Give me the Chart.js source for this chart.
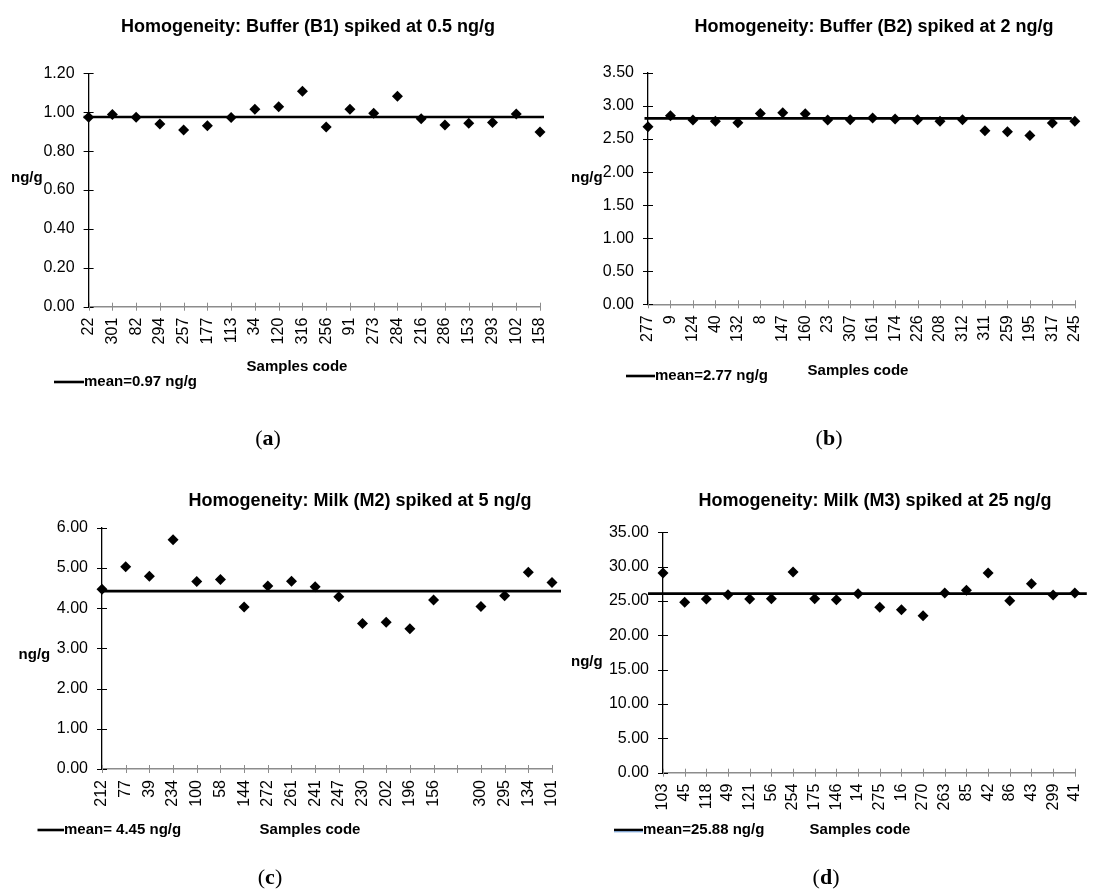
<!DOCTYPE html>
<html><head><meta charset="utf-8">
<script src="https://cdn.jsdelivr.net/npm/chart.js@4.4.1/dist/chart.umd.min.js"></script>
<style>
html,body{margin:0;padding:0;background:#fff;}
#wrap{position:relative;width:1105px;height:889px;overflow:hidden;background:#fff;}
canvas{position:absolute;left:0;top:0;}
.lbl{position:absolute;font-family:"Liberation Serif","DejaVu Serif",serif;font-size:22px;color:#000;transform:translate(-50%,-50%);white-space:nowrap;}
</style></head><body>
<div id="wrap">
<canvas id="c0" width="1105" height="889"></canvas>
<canvas id="c1" width="1105" height="889"></canvas>
<canvas id="c2" width="1105" height="889"></canvas>
<canvas id="c3" width="1105" height="889"></canvas>
<div class="lbl" style="left:268px;top:438px">(<b>a</b>)</div>
<div class="lbl" style="left:829px;top:438px">(<b>b</b>)</div>
<div class="lbl" style="left:270px;top:877px">(<b>c</b>)</div>
<div class="lbl" style="left:826px;top:877px">(<b>d</b>)</div>
</div>
<script>
// ---- data ----
const codesA = ['22','301','82','294','257','177','113','34','120','316','256','91','273','284','216','286','153','293','102','158'];
const valuesA = [0.974,0.988,0.974,0.940,0.909,0.931,0.973,1.015,1.029,1.108,0.924,1.015,0.995,1.082,0.967,0.935,0.943,0.948,0.991,0.899];
const codesB = ['277','9','124','40','132','8','147','160','23','307','161','174','226','208','312','311','259','195','317','245'];
const valuesB = [2.687,2.853,2.788,2.768,2.747,2.889,2.899,2.884,2.788,2.793,2.818,2.803,2.793,2.768,2.793,2.626,2.611,2.556,2.742,2.768];
const codesC = ['212','77','39','234','100','58','144','272','261','241','247','230','202','196','156','','300','295','134','101'];
const valuesC = [4.47,5.03,4.79,5.70,4.66,4.71,4.03,4.55,4.67,4.53,4.28,3.62,3.65,3.49,4.20,null,4.04,4.31,4.89,4.64];
const codesD = ['103','45','118','49','121','56','254','175','146','14','275','16','270','263','85','42','86','43','299','41'];
const valuesD = [29.08,24.81,25.29,25.92,25.29,25.34,29.22,25.34,25.19,26.07,24.08,23.74,22.86,26.17,26.55,29.08,25.05,27.52,25.87,26.17];
const meanLines = [0.976, 2.813, 4.424, 26.07];
const meanLabels = ['mean=0.97 ng/g','mean=2.77 ng/g','mean= 4.45 ng/g','mean=25.88 ng/g'];
const titles = ['Homogeneity: Buffer (B1) spiked at 0.5 ng/g','Homogeneity: Buffer (B2) spiked at 2 ng/g','Homogeneity: Milk (M2) spiked at 5 ng/g','Homogeneity: Milk (M3) spiked at 25 ng/g'];
const yMax = [1.2, 3.5, 6, 35];
const yStep = [0.2, 0.5, 1, 5];
const yTitle = 'ng/g';
const xTitle = 'Samples code';

// ---- layout (page pixels) ----
const layouts = [
  {area:[88.6,73.4,540,306.7], title:[308,27], ylab:[11,178], xlab:[297,367], leg:[54,84,382], ext:[5,4]},
  {area:[648,73,1091,304.3], title:[874,27], ylab:[571,178], xlab:[858,371], leg:[626,655,376], ext:[3.5,-3]},
  {area:[102,527.7,552,769], title:[360,501], ylab:[18.6,655], xlab:[310,830], leg:[37.5,64,830], ext:[0,9]},
  {area:[663,532.3,1095,772.7], title:[875,501], ylab:[571,662], xlab:[860,830], leg:[614,643,830], ext:[15,12], accent:true}
];
const panels = [[codesA,valuesA],[codesB,valuesB],[codesC,valuesC],[codesD,valuesD]];

const FONT = '"Liberation Sans", Arial, sans-serif';
const Y_W = 70, X_H = 60, W = 1105, H = 889;

const deco = {
  id: 'deco',
  beforeDatasetsDraw(chart, args, o) {
    const ctx = chart.ctx, ys = chart.scales.y, a = chart.chartArea;
    const yp = ys.getPixelForValue(o.mean);
    ctx.save();
    ctx.strokeStyle = '#000'; ctx.lineWidth = 2.6;
    ctx.beginPath(); ctx.moveTo(a.left - o.ext[0], yp); ctx.lineTo(a.right + o.ext[1], yp); ctx.stroke();
    ctx.restore();
  },
  afterDraw(chart, args, o) {
    const ctx = chart.ctx, ys = chart.scales.y, xs = chart.scales.x, a = chart.chartArea;
    ctx.save();
    // cross tick marks on y axis
    ctx.strokeStyle = '#000'; ctx.lineWidth = 1;
    ys.ticks.forEach((t, i) => {
      const p = Math.round(ys.getPixelForTick(i)) + 0.5;
      ctx.beginPath(); ctx.moveTo(a.left - 5, p); ctx.lineTo(a.left + 5, p); ctx.stroke();
    });
    // cross tick marks on x axis
    ctx.strokeStyle = '#8c8c8c';
    xs.ticks.forEach((t, i) => {
      const p = Math.round(xs.getPixelForTick(i)) + 0.5;
      ctx.beginPath(); ctx.moveTo(p, a.bottom - 4); ctx.lineTo(p, a.bottom + 4); ctx.stroke();
    });
    ctx.fillStyle = '#000';
    ctx.textBaseline = 'middle';
    // title
    ctx.font = 'bold 18px ' + FONT; ctx.textAlign = 'center';
    ctx.fillText(o.title, o.L.title[0], o.L.title[1]);
    // axis titles
    ctx.font = 'bold 15px ' + FONT;
    ctx.fillText(xTitle, o.L.xlab[0], o.L.xlab[1]);
    ctx.textAlign = 'left';
    ctx.fillText(yTitle, o.L.ylab[0], o.L.ylab[1]);
    // legend
    const lg = o.L.leg;
    ctx.strokeStyle = '#000'; ctx.lineWidth = 2.6;
    ctx.beginPath(); ctx.moveTo(lg[0], lg[2]); ctx.lineTo(lg[1], lg[2]); ctx.stroke();
    if (o.L.accent) {
      ctx.strokeStyle = '#6a9bd8'; ctx.lineWidth = 1;
      ctx.beginPath(); ctx.moveTo(lg[0], lg[2] + 1.8); ctx.lineTo(lg[1], lg[2] + 1.8); ctx.stroke();
    }
    ctx.fillText(o.legend, lg[1], lg[2]);
    ctx.restore();
  }
};

panels.forEach(([codes, vals], k) => {
  const L = layouts[k];
  const [l, t, r, b] = L.area;
  new Chart(document.getElementById('c' + k), {
    type: 'line',
    data: {
      labels: codes,
      datasets: [{
        data: vals, showLine: false, pointStyle: 'rectRot', pointRadius: 5.5, pointHoverRadius: 5.5,
        backgroundColor: '#000', borderColor: '#000', borderWidth: 0, clip: false, spanGaps: false
      }]
    },
    options: {
      responsive: false, animation: false, devicePixelRatio: 1,
      layout: { padding: { left: l - Y_W, top: t, right: W - r, bottom: H - b - X_H } },
      plugins: {
        legend: { display: false }, tooltip: { enabled: false }, title: { display: false },
        deco: { mean: meanLines[k], ext: L.ext, title: titles[k], legend: meanLabels[k], L: L }
      },
      scales: {
        x: {
          type: 'category', offset: false,
          grid: { display: true, drawOnChartArea: false, drawTicks: false },
          border: { display: true, color: '#8c8c8c', width: 1.5 },
          ticks: { autoSkip: false, maxRotation: 90, minRotation: 90, padding: 11, color: '#000', font: { family: FONT, size: 16 } },
          afterFit: s => { s.height = X_H; }
        },
        y: {
          min: 0, max: yMax[k],
          grid: { display: true, drawOnChartArea: false, drawTicks: false },
          border: { display: true, color: '#000', width: 1.3 },
          ticks: { stepSize: yStep[k], padding: 14, color: '#000', font: { family: FONT, size: 16 }, callback: v => Number(v).toFixed(2) },
          afterFit: s => { s.width = Y_W; }
        }
      }
    },
    plugins: [deco]
  });
});
</script>
</body></html>
